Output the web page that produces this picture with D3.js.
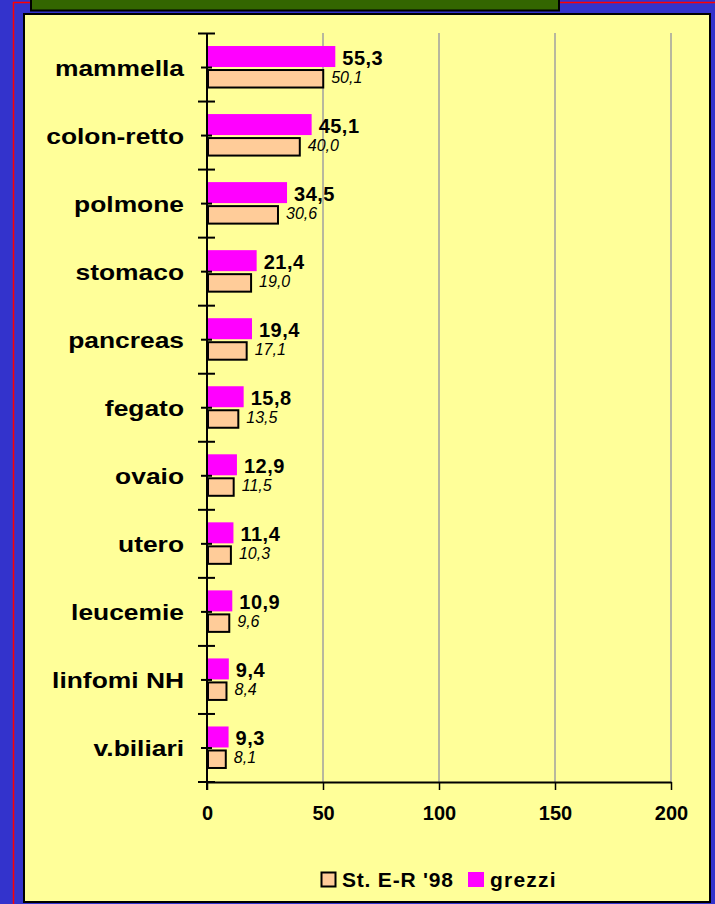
<!DOCTYPE html>
<html>
<head>
<meta charset="utf-8">
<script src="https://cdn.jsdelivr.net/npm/d3@7"></script>
<style>
  body { margin: 0; background: #3333cc; }
  svg { display: block; }
  text { font-family: "Liberation Sans", Arial, sans-serif; }
</style>
</head>
<body>
<div id="chart"></div>
<script>
// values
const categories = ["mammella", "colon-retto", "polmone", "stomaco", "pancreas", "fegato",
    "ovaio", "utero", "leucemie", "linfomi NH", "v.biliari"];
const grezzi = [55.3, 45.1, 34.5, 21.4, 19.4, 15.8, 12.9, 11.4, 10.9, 9.4, 9.3];
const standard = [50.1, 40.0, 30.6, 19.0, 17.1, 13.5, 11.5, 10.3, 9.6, 8.4, 8.1];
const xTicks = [0, 50, 100, 150, 200];
const seriesNames = ["St. E-R '98", "grezzi"];

const fmt = v => v.toFixed(1).replace(".", ",");

const W = 715, H = 904;
const svg = d3.select("#chart").append("svg")
    .attr("width", W)
    .attr("height", H);

// background frame
svg.append("rect").attr("width", W).attr("height", H).attr("fill", "#3333cc");
svg.append("path")
    .attr("d", "M13.5,904 V2.5 H715")
    .attr("fill", "none")
    .attr("stroke", "#ff0000")
    .attr("stroke-width", 1.5);
svg.append("rect")
    .attr("x", 31).attr("y", -3).attr("width", 528).attr("height", 13.5)
    .attr("fill", "#336600").attr("stroke", "#000").attr("stroke-width", 2);
svg.append("rect")
    .attr("x", 24).attr("y", 14).attr("width", 686).attr("height", 888)
    .attr("fill", "#ffff99").attr("stroke", "#000").attr("stroke-width", 2);

const x = d3.scaleLinear().domain([0, 200]).range([207, 671]);
const y = d3.scaleBand().domain(categories).range([33.5, 782]);
const c = d => y(d) + y.bandwidth() / 2;

// gridlines
svg.append("g").selectAll("line")
    .data(xTicks.slice(1))
    .enter().append("line")
    .attr("x1", d => x(d)).attr("x2", d => x(d))
    .attr("y1", 33).attr("y2", 782)
    .attr("stroke", "#a0a0a0").attr("stroke-width", 1.5);

// bars
svg.append("g").selectAll("rect")
    .data(categories)
    .enter().append("rect")
    .attr("x", x(0))
    .attr("y", d => c(d) - 21.5)
    .attr("width", (d, i) => x(grezzi[i]) - x(0))
    .attr("height", 21)
    .attr("fill", "#ff00ff");

svg.append("g").selectAll("rect")
    .data(categories)
    .enter().append("rect")
    .attr("x", x(0) + 1)
    .attr("y", d => c(d) + 2.5)
    .attr("width", (d, i) => x(standard[i]) - x(0) - 1)
    .attr("height", 17.5)
    .attr("fill", "#ffcc99")
    .attr("stroke", "#000")
    .attr("stroke-width", 2);

// x axis
const xAxis = svg.append("g")
    .attr("transform", "translate(0,782)")
    .call(d3.axisBottom(x).tickValues(xTicks).tickSize(8).tickSizeOuter(0).tickPadding(16));
xAxis.select(".domain").attr("stroke", "#000").attr("stroke-width", 2);
xAxis.selectAll(".tick line").attr("stroke", "#000").attr("stroke-width", 1.5);
xAxis.selectAll(".tick text")
    .attr("fill", "#000")
    .style("font-size", "20px")
    .style("font-weight", "bold");

// y axis
svg.append("line")
    .attr("x1", x(0)).attr("x2", x(0))
    .attr("y1", 33).attr("y2", 790)
    .attr("stroke", "#000").attr("stroke-width", 2);

const bounds = categories.map(d => y(d)).concat([y.range()[1]]);
svg.append("g").selectAll("line")
    .data(bounds)
    .enter().append("line")
    .attr("x1", 198).attr("x2", 215)
    .attr("y1", d => d).attr("y2", d => d)
    .attr("stroke", "#000").attr("stroke-width", 2);
svg.append("g").selectAll("line")
    .data(categories)
    .enter().append("line")
    .attr("x1", 201).attr("x2", 212)
    .attr("y1", d => c(d)).attr("y2", d => c(d))
    .attr("stroke", "#000").attr("stroke-width", 2);

// category labels
svg.append("g").selectAll("text")
    .data(categories)
    .enter().append("text")
    .attr("transform", d => `translate(184,${c(d) + 8.5}) scale(1.2,1)`)
    .attr("text-anchor", "end")
    .style("font-size", "22px")
    .style("font-weight", "bold")
    .text(d => d);

// value labels
svg.append("g").selectAll("text")
    .data(categories)
    .enter().append("text")
    .attr("x", (d, i) => x(grezzi[i]) + 7)
    .attr("y", d => c(d) - 3)
    .style("font-size", "20px")
    .style("font-weight", "bold")
    .style("letter-spacing", "0.5px")
    .text((d, i) => fmt(grezzi[i]));

svg.append("g").selectAll("text")
    .data(categories)
    .enter().append("text")
    .attr("x", (d, i) => x(standard[i]) + 8)
    .attr("y", d => c(d) + 15.5)
    .style("font-size", "16px")
    .style("font-style", "italic")
    .text((d, i) => fmt(standard[i]));

// legend
const legend = svg.append("g");
legend.append("rect")
    .attr("x", 321.5).attr("y", 872.5).attr("width", 14).attr("height", 14)
    .attr("fill", "#ffcc99").attr("stroke", "#000").attr("stroke-width", 2);
legend.append("text")
    .attr("x", 342).attr("y", 887)
    .style("font-size", "21px").style("font-weight", "bold")
    .style("letter-spacing", "0.8px")
    .text(seriesNames[0]);
legend.append("rect")
    .attr("x", 468).attr("y", 872).attr("width", 16).attr("height", 15)
    .attr("fill", "#ff00ff");
legend.append("text")
    .attr("x", 490).attr("y", 887)
    .style("font-size", "21px").style("font-weight", "bold")
    .style("letter-spacing", "1.2px")
    .text(seriesNames[1]);
</script>
</body>
</html>
